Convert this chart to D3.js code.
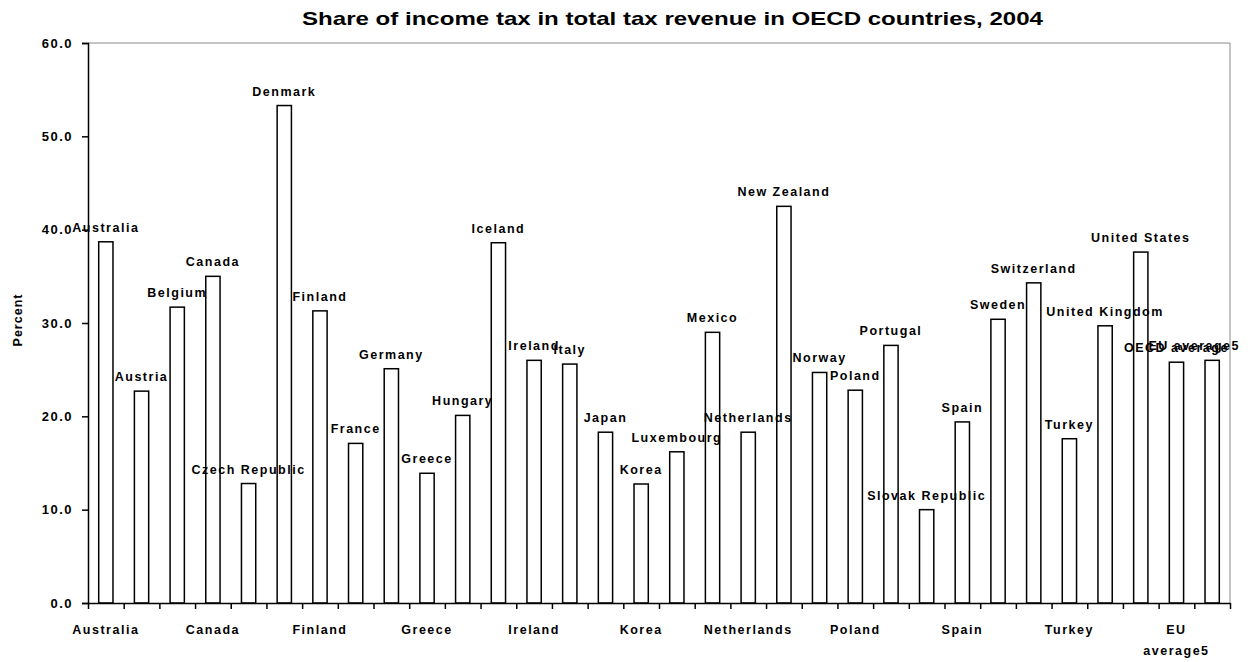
<!DOCTYPE html>
<html>
<head>
<meta charset="utf-8">
<script src="https://cdn.jsdelivr.net/npm/d3@7"></script>
<style>
  body { margin: 0; background: #fff; }
  text { font-family: "Liberation Sans", Arial, sans-serif; fill: #000; }
</style>
</head>
<body>
<div id="chart"></div>
<script>
// categories and values (percent of total tax revenue)
var countries = ["Australia", "Austria", "Belgium", "Canada", "Czech Republic", "Denmark",
  "Finland", "France", "Germany", "Greece", "Hungary", "Iceland", "Ireland", "Italy",
  "Japan", "Korea", "Luxembourg", "Mexico", "Netherlands", "New Zealand", "Norway",
  "Poland", "Portugal", "Slovak Republic", "Spain", "Sweden", "Switzerland", "Turkey",
  "United Kingdom", "United States", "OECD average", "EU average5"];
var shares = [38.7, 22.7, 31.7, 35.0, 12.8, 53.3, 31.3, 17.1, 25.1, 13.9, 20.1, 38.6,
  26.0, 25.6, 18.3, 12.75, 16.2, 29.0, 18.3, 42.5, 24.7, 22.8, 27.6, 10.0, 19.4,
  30.4, 34.3, 17.6, 29.7, 37.6, 25.8, 26.0];
// x axis only shows every third category name
var xTickIndex = [0, 3, 6, 9, 12, 15, 18, 21, 24, 27, 30];
var xTickText = ["Australia", "Canada", "Finland", "Greece", "Ireland", "Korea",
  "Netherlands", "Poland", "Spain", "Turkey", "EU|average5"];
var yTicks = [0, 10, 20, 30, 40, 50, 60];

var width = 1248, height = 662;
var plotLeft = 88, plotRight = 1230, plotTop = 43, plotBottom = 603;
var labelMaxX = 1240; // data labels are pushed back inside the chart area

var svg = d3.select("#chart").append("svg")
  .attr("width", width)
  .attr("height", height);

var x = d3.scaleBand()
  .domain(countries)
  .range([plotLeft, plotRight])
  .paddingInner(0.6)
  .paddingOuter(0.3);

var y = d3.scaleLinear()
  .domain([0, 60])
  .range([plotBottom, plotTop]);

// scale of category boundaries for the little ticks on the x axis
var xb = d3.scaleLinear().domain([0, countries.length]).range([plotLeft, plotRight]);

// plot area frame (top + right, grey)
svg.append("line")
  .attr("x1", plotLeft).attr("x2", plotRight)
  .attr("y1", plotTop).attr("y2", plotTop)
  .attr("stroke", "#8a8a8a").attr("stroke-width", 1);
svg.append("line")
  .attr("x1", plotRight).attr("x2", plotRight)
  .attr("y1", plotTop).attr("y2", plotBottom)
  .attr("stroke", "#8a8a8a").attr("stroke-width", 1);

// bars
svg.selectAll("rect.bar")
  .data(countries)
  .enter()
  .append("rect")
  .attr("class", "bar")
  .attr("x", d => x(d))
  .attr("y", (d, i) => y(shares[i]))
  .attr("width", x.bandwidth())
  .attr("height", (d, i) => y(0) - y(shares[i]))
  .attr("fill", "#fff")
  .attr("stroke", "#000")
  .attr("stroke-width", 1.5);

// data labels (category names above the bars)
svg.selectAll("text.lbl")
  .data(countries)
  .enter()
  .append("text")
  .attr("class", "lbl")
  .attr("x", d => x(d) + x.bandwidth() / 2)
  .attr("y", (d, i) => y(shares[i]) - 10)
  .attr("text-anchor", "middle")
  .style("font-size", "12.5px")
  .style("font-weight", "bold")
  .style("letter-spacing", "1.5px")
  .text(d => d)
  .each(function(d) {
    // keep label inside the chart like excel does
    var w = this.getComputedTextLength();
    var cx = x(d) + x.bandwidth() / 2;
    if (cx + w / 2 > labelMaxX) d3.select(this).attr("x", labelMaxX - w / 2);
  });

// y axis
var yAxis = svg.append("g")
  .attr("transform", `translate(${plotLeft},0)`)
  .call(d3.axisLeft(y).tickValues(yTicks).tickFormat(d3.format(".1f")).tickSize(6).tickPadding(9));
yAxis.select(".domain").attr("stroke", "#000").attr("stroke-width", 1.5);
yAxis.selectAll(".tick line").attr("stroke", "#000").attr("stroke-width", 1.5);
yAxis.selectAll(".tick text")
  .style("font-size", "13px")
  .style("font-weight", "bold")
  .style("letter-spacing", "1.5px")
  .style("font-family", "'Liberation Sans', Arial, sans-serif");

// x axis: line with tick marks at category boundaries
var xAxis = svg.append("g")
  .attr("transform", `translate(0,${plotBottom})`)
  .call(d3.axisBottom(xb).tickValues(d3.range(countries.length + 1)).tickFormat("").tickSize(6).tickSizeOuter(0));
xAxis.select(".domain").attr("stroke", "#000").attr("stroke-width", 1.5);
xAxis.selectAll(".tick line").attr("stroke", "#000").attr("stroke-width", 1.5);

// x axis category labels
var xLabels = svg.append("g");
xTickIndex.forEach(function(idx, k) {
  var cx = x(countries[idx]) + x.bandwidth() / 2;
  var t = xLabels.append("text")
    .attr("x", cx)
    .attr("y", 634)
    .attr("text-anchor", "middle")
    .style("font-size", "12.5px")
    .style("font-weight", "bold")
    .style("letter-spacing", "1.5px");
  xTickText[k].split("|").forEach(function(part, j) {
    t.append("tspan")
      .attr("x", cx)
      .attr("dy", j === 0 ? 0 : 21)
      .text(part);
  });
});

// y axis title
svg.append("text")
  .attr("transform", "translate(22,320) rotate(-90)")
  .attr("text-anchor", "middle")
  .style("font-size", "12.5px")
  .style("font-weight", "bold")
  .style("letter-spacing", "1px")
  .text("Percent");

// chart title
svg.append("text")
  .attr("x", 302)
  .attr("y", 25)
  .attr("textLength", 741)
  .attr("lengthAdjust", "spacingAndGlyphs")
  .style("font-size", "19px")
  .style("font-weight", "bold")
  .text("Share of income tax in total tax revenue in OECD countries, 2004");
</script>
</body>
</html>
